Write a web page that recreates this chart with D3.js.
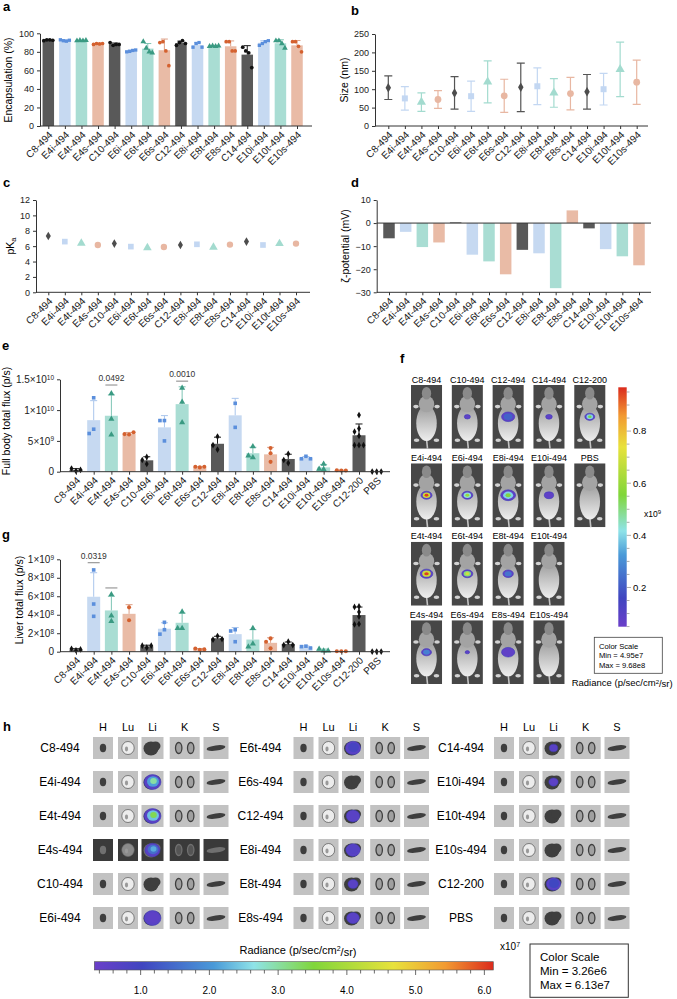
<!DOCTYPE html>
<html>
<head>
<meta charset="utf-8">
<script src="https://cdn.jsdelivr.net/npm/d3@7"></script>
<style>
  body { margin: 0; background: #fff; }
  svg { font-family: Arial, "Liberation Sans", sans-serif; }
  .axis path, .axis line { stroke: #333; stroke-width: 1; }
  .axis text { fill: #222; font-size: 9px; font-family: Arial, "Liberation Sans", sans-serif; }
  .axis.big text { font-size: 10px; }
  .plabel { font-weight: bold; font-size: 13px; }
</style>
</head>
<body>
<svg id="fig" width="677" height="999"></svg>
<script>
// 1. Data --------------------------------------------------------------
var lnps = ["C8-494","E4i-494","E4t-494","E4s-494","C10-494","E6i-494","E6t-494","E6s-494",
            "C12-494","E8i-494","E8t-494","E8s-494","C14-494","E10i-494","E10t-494","E10s-494"];
var ivGroups = lnps.concat(["C12-200","PBS"]);

// a. encapsulation (%), 4 replicates
var encap = [[92,93,93,92.5],[93,92,91.5,92.5],[92,92.5,92,92.5],[88,89,88.5,89],
             [90,87,88,88],[80,80.5,81.5,82],[91,84,80,79],[90,91,81,65],
             [87,90,92,89],[85,89,90,85],[86,86.5,86,86.5],[91,91,81,81],
             [85,81,79,63],[87,89,91,92],[92,92,89,84],[91,91,86,80]];

// b. size (nm)
var sizeMean = [104,75,65,72,90,81,120,82,105,108,90,88,93,100,154,119];
var sizeSD   = [32,32,25,24,44,41,57,45,66,50,39,44,47,43,74,60];

// c. pKa
var pka = [7.32,6.59,6.37,6.15,6.33,5.94,5.8,5.89,6.15,6.24,5.85,6.2,6.59,6.15,6.33,6.33];

// d. zeta potential (mV)
var zeta = [-6.6,-3.8,-10.4,-8.4,0.3,-13.7,-16.6,-22.2,-11.6,-13.1,-28.2,5.5,-2.3,-11.3,-14.4,-18.3];

// e. full body total flux, x10^9 p/s
var fullBody = [[0.1,0.5,0.3],[12.0,6.9,6.2],[12.7,8.55,6.0],[6.05,6.1,6.4],
                [2.4,1.25,1.9],[8.3,8.3,5.0],[13.6,11.3,8.0],[0.7,0.8,0.8],
                [5.7,3.6,4.3],[11.1,7.2],[4.1,2.3,2.6],[3.85,3.0,1.6],
                [2.9,1.4,1.9],[2.5,2.1,2.1],[1.25,0.4,0.45],[0.2,0.25,0.2],
                [9.2,7.0,6.5,5.8,4.3,4.3,4.3],[0.02,0.02,0.02]];
var fullBodyP = [{group:"E4t-494", at:14.07, p:"0.0492"}, {group:"E6t-494", at:14.7, p:"0.0010"}];

// g. liver total flux, x10^8 p/s
var liver = [[0.15,0.32,0.25],[8.85,5.16,3.83],[6.2,3.9,3.3],[4.8,3.4],
             [0.43,0.65,0.65],[3.18,2.38,1.9],[4.33,2.53,2.53],[0.22,0.35,0.25],
             [1.7,1.3,1.37],[2.38,2.24,1.08],[2.53,0.87,0.54],[1.44,1.08,0.36],
             [1.08,0.72,0.72],[0.6,0.55,0.4],[0.1,0.3,0.1],[0.05,0.05,0.05],
             [4.9,4.85,4.3,3.8,3.0,2.95],[0.01,0.01,0.01]];
var liverP = [{group:"E4i-494", at:9.63, p:"0.0319"}, {group:"E4t-494", at:6.9, p:""}];

// f. whole-body images: peak radiance (x10^9) and relative signal area
var mouseRows = [["C8-494","C10-494","C12-494","C14-494","C12-200"],
                 ["E4i-494","E6i-494","E8i-494","E10i-494","PBS"],
                 ["E4t-494","E6t-494","E8t-494","E10t-494"],
                 ["E4s-494","E6s-494","E8s-494","E10s-494"]];
var mousePeak   = [[0,0.1,0.3,0.1,0.55],[0.95,0.6,0.55,0.1,0],[0.95,0.7,0.35,0],[0.38,0.08,0.15,0]];
var mouseSpread = [[0,0.55,1.2,0.6,0.9],[1.0,1.0,1.35,0.85,0],[1.15,1.0,0.95,0],[0.9,0.4,1.2,0]];
var mouseScale = {min:0.0495, max:0.968, ticks:[0.2,0.4,0.6,0.8]};

// h. ex vivo organs: liver peak radiance (x10^7) and relative area
var organs = ["H","Lu","Li","K","S"];
var organSets = [["C8-494","E4i-494","E4t-494","E4s-494","C10-494","E6i-494"],
                 ["E6t-494","E6s-494","C12-494","E8i-494","E8t-494","E8s-494"],
                 ["C14-494","E10i-494","E10t-494","E10s-494","C12-200","PBS"]];
var liverPeak   = [[0,3.0,3.4,2.2,0,0.8],[1.3,0,0.6,1.0,0.5,0.6],[0.5,0.8,0,0,1.5,0]];
var liverSpread = [[0,1,1,0.9,0,1],[0.9,0,0.8,0.85,0.6,0.75],[0.5,0.55,0,0,0.85,0]];
var organScale = {min:0.326, max:6.13, ticks:[1,2,3,4,5,6]};
var darkExposure = ["E4s-494"];

// 2. Styles and helpers -------------------------------------------------
var fig = d3.select("#fig");

function grp(name) {
  if (name[0] === "C" || name === "PBS") return "C";
  return name.match(/^E\d+([its])/)[1];
}
var barFill  = {C:"#595959", i:"#c6d9f1", t:"#a9ddd3", s:"#e9bba6"};
var dotFill  = {C:"#111111", i:"#5b8fdc", t:"#3a9a82", s:"#d4612f"};
var errCol   = {C:"#1a1a1a", i:"#a9c5ec", t:"#7fc5b5", s:"#dea087"};
var markFill = {C:"#4d4d4d", i:"#c3d7f2", t:"#a3dbcf", s:"#e8b7a2"};
var markShape = {C:d3.symbolDiamond, i:d3.symbolSquare, t:d3.symbolTriangle, s:d3.symbolCircle};

var rampStops  = [0, 0.12, 0.3, 0.4, 0.55, 0.75, 0.88, 1];
var rampColors = ["#6b3fc9","#4045c0","#4a9ad8","#8fe3e8","#80d63a","#e8e23c","#f29a32","#db2b1d"];
var ramp = d3.scaleLinear().domain(rampStops).range(rampColors).clamp(true);

var defs = fig.append("defs");
function gradient(id, vertical) {
  var lg = defs.append("linearGradient").attr("id", id)
    .attr("x1", 0).attr("y1", vertical ? 1 : 0).attr("x2", vertical ? 0 : 1).attr("y2", 0);
  rampStops.forEach(function(s, i) {
    lg.append("stop").attr("offset", s).attr("stop-color", rampColors[i]);
  });
}
gradient("rampV", true);
gradient("rampH", false);
var bodyGrad = defs.append("linearGradient").attr("id", "bodyGrad")
  .attr("x1", 0).attr("y1", 0).attr("x2", 0).attr("y2", 1);
bodyGrad.append("stop").attr("offset", 0).attr("stop-color", "#9c9c9c");
bodyGrad.append("stop").attr("offset", 1).attr("stop-color", "#eeeeee");

function panelLetter(t, x, y) {
  fig.append("text").attr("class", "plabel").attr("x", x).attr("y", y).text(t);
}

function yTitle(x, yc, text, size) {
  return fig.append("text")
    .attr("transform", `translate(${x},${yc}) rotate(-90)`)
    .attr("text-anchor", "middle")
    .style("font-size", (size || 10.5) + "px")
    .text(text);
}

function yAxis(x0, scale, ticks, big) {
  return fig.append("g").attr("class", big ? "axis big" : "axis")
    .attr("transform", `translate(${x0},0)`)
    .call(d3.axisLeft(scale).tickValues(ticks).tickSize(3).tickSizeOuter(0));
}

// category axis with rotated labels, domain line drawn across the whole plot
function catAxis(y0, scale, x0, x1, fontSize) {
  var g = fig.append("g").attr("class", "axis")
    .attr("transform", `translate(0,${y0})`)
    .call(d3.axisBottom(scale).tickSize(3).tickSizeOuter(0));
  g.select(".domain").remove();
  g.append("line").attr("x1", x0).attr("x2", x1).attr("stroke", "#333");
  g.selectAll(".tick text")
    .attr("x", 0).attr("y", 0).attr("dy", "0.35em")
    .attr("transform", "translate(2,7) rotate(-45)")
    .style("text-anchor", "end")
    .style("fill", "#222")
    .style("font-size", fontSize + "px");
  return g;
}

// superscript tick labels, e.g. 5x10^9
function sciLabels(g, unit) {
  g.selectAll(".tick text").each(function(v) {
    var t = d3.select(this).text(null);
    if (v === 0) { t.text("0"); return; }
    var real = v * unit;
    var e = Math.floor(Math.log10(real) + 1e-9);
    var m = Math.round(real / Math.pow(10, e) * 100) / 100;
    t.append("tspan").text(m + "×10");
    t.append("tspan").attr("dy", "-0.5em").style("font-size", "6.5px").text(e);
  });
}

// points that would overlap get pushed sideways
function swarm(vals, y, gap) {
  var placed = [];
  return vals.map(function(v) {
    var py = y(v);
    var used = placed.filter(p => Math.abs(p.y - py) < gap).map(p => p.dx);
    var cands = [0, -gap, gap, -2 * gap, 2 * gap];
    var dx = cands.find(c => used.indexOf(c) < 0);
    if (dx === undefined) dx = 0;
    placed.push({y: py, dx: dx});
    return {v: v, dx: dx};
  });
}

function barsWithDots(cfg) {
  var stats = cfg.values.map(function(v, i) {
    var name = cfg.names[i];
    return {name: name, g: grp(name), mean: d3.mean(v), sd: d3.deviation(v) || 0, pts: v};
  });
  var x = cfg.x, y = cfg.y, bw = cfg.bw, y0 = y(0);
  var layer = fig.append("g");
  layer.selectAll("rect").data(stats).join("rect")
    .attr("x", d => x(d.name) - bw / 2)
    .attr("y", d => y(d.mean))
    .attr("width", bw)
    .attr("height", d => y0 - y(d.mean))
    .attr("fill", d => barFill[d.g]);
  layer.selectAll(".err").data(stats.filter(d => d.sd > 0)).join("path")
    .attr("fill", "none")
    .attr("stroke", d => errCol[d.g])
    .attr("stroke-width", 1)
    .attr("d", d => {
      var cx = x(d.name), top = y(d.mean + d.sd);
      return `M${cx},${y(d.mean)}V${top}M${cx - 3.5},${top}H${cx + 3.5}`;
    });
  stats.forEach(function(d) {
    var pts = cfg.even
      ? d.pts.map((v, j) => ({v: v, dx: (j - (d.pts.length - 1) / 2) * cfg.gap}))
      : swarm(d.pts, y, cfg.gap);
    layer.append("g").selectAll("path").data(pts).join("path")
      .attr("transform", p => `translate(${x(d.name) + p.dx},${y(p.v)})`)
      .attr("d", d3.symbol().type(cfg.shape(d.g)).size(cfg.size(d.g)))
      .attr("fill", dotFill[d.g]);
  });
}

function sigBars(list, x, y, bw) {
  list.forEach(function(s) {
    var cx = x(s.group), sy = y(s.at);
    fig.append("line").attr("x1", cx - bw / 2).attr("x2", cx + bw / 2)
      .attr("y1", sy).attr("y2", sy).attr("stroke", "#777").attr("stroke-width", 0.9);
    if (s.p) fig.append("text").attr("x", cx).attr("y", sy - 4)
      .attr("text-anchor", "middle").style("font-size", "8.5px").attr("fill", "#333").text(s.p);
  });
}

// 3. Panel a: encapsulation ---------------------------------------------
panelLetter("a", 3, 11);
var xa = d3.scalePoint().domain(lnps).range([48.3, 297]);
var ya = d3.scaleLinear().domain([0, 100]).range([126, 33.3]);
barsWithDots({names: lnps, values: encap, x: xa, y: ya, bw: 11.5, even: true, gap: 3,
  shape: g => g === "C" ? d3.symbolCircle : markShape[g],
  size: g => g === "t" ? 14 : 11});
yAxis(40, ya, [0, 20, 40, 60, 80, 100]);
catAxis(126, xa, 40, 312, 10);
yTitle(12, 80, "Encapsulation (%)");

// 4. Panel b: size --------------------------------------------------------
panelLetter("b", 351, 15);
var xb = d3.scalePoint().domain(lnps).range([388.3, 636.7]);
var yb = d3.scaleLinear().domain([0, 250]).range([126, 34]);
var sizeData = lnps.map((n, i) => ({name: n, g: grp(n), mean: sizeMean[i], sd: sizeSD[i]}));
fig.append("g").selectAll("path").data(sizeData).join("path")
  .attr("fill", "none")
  .attr("stroke", d => d.g === "C" ? "#555" : markFill[d.g])
  .attr("stroke-width", 1.2)
  .attr("d", d => {
    var cx = xb(d.name), lo = yb(d.mean - d.sd), hi = yb(d.mean + d.sd);
    return `M${cx},${lo}V${hi}M${cx - 4},${hi}H${cx + 4}M${cx - 4},${lo}H${cx + 4}`;
  });
fig.append("g").selectAll("path").data(sizeData).join("path")
  .attr("transform", d => `translate(${xb(d.name)},${yb(d.mean)})`)
  .attr("d", d => d3.symbol().type(markShape[d.g]).size(d.g === "C" ? 26 : 36)())
  .attr("fill", d => markFill[d.g]);
yAxis(375, yb, [0, 50, 100, 150, 200, 250]);
catAxis(126, xb, 375, 648, 10);
yTitle(348, 80, "Size (nm)");

// 5. Panel c: pKa ---------------------------------------------------------
panelLetter("c", 3, 187);
var xc = d3.scalePoint().domain(lnps).range([48.3, 296]);
var yc = d3.scaleLinear().domain([0, 12]).range([292.3, 200]);
fig.append("g").selectAll("path").data(lnps).join("path")
  .attr("transform", (d, i) => `translate(${xc(d)},${yc(pka[i])})`)
  .attr("d", d => d3.symbol().type(markShape[grp(d)]).size(grp(d) === "C" ? 22 : 32)())
  .attr("fill", d => markFill[grp(d)]);
yAxis(36, yc, [0, 2, 4, 6, 8, 10, 12]);
catAxis(292.3, xc, 36, 310, 10);
var pkT = yTitle(14, 246, "pK");
pkT.append("tspan").attr("dy", "0.3em").style("font-size", "7.5px").text("a");

// 6. Panel d: zeta potential ---------------------------------------------
panelLetter("d", 351, 187);
var xd = d3.scalePoint().domain(lnps).range([389, 639]);
var yd = d3.scaleLinear().domain([-30, 10]).range([292.3, 200]);
fig.append("g").selectAll("rect").data(lnps).join("rect")
  .attr("x", d => xd(d) - 5.75)
  .attr("y", (d, i) => yd(Math.max(0, zeta[i])))
  .attr("width", 11.5)
  .attr("height", (d, i) => Math.abs(yd(zeta[i]) - yd(0)))
  .attr("fill", d => barFill[grp(d)]);
fig.append("line").attr("x1", 376.7).attr("x2", 651).attr("y1", yd(0)).attr("y2", yd(0))
  .attr("stroke", "#333");
yAxis(376.7, yd, [-30, -20, -10, 0, 10]);
catAxis(292.3, xd, 376.7, 651, 10);
yTitle(349, 246, "ζ-potential (mV)");

// 7. Panel e: full body flux ----------------------------------------------
panelLetter("e", 2, 350);
var xe = d3.scalePoint().domain(ivGroups).range([76, 376.7]);
var ye = d3.scaleLinear().domain([0, 15]).range([471.7, 379.3]);
barsWithDots({names: ivGroups, values: fullBody, x: xe, y: ye, bw: 13, gap: 4.5,
  shape: g => g === "C" ? d3.symbolDiamond : markShape[g],
  size: g => g === "t" ? 16 : 13});
sciLabels(yAxis(60, ye, [0, 5, 10, 15], true), 1e9);
catAxis(471.7, xe, 60, 390, 10);
sigBars(fullBodyP, xe, ye, 12);
yTitle(10, 421, "Full body total flux (p/s)");

// 8. Panel g: liver flux ----------------------------------------------------
panelLetter("g", 2, 539);
var yg = d3.scaleLinear().domain([0, 10]).range([651.7, 559.3]);
barsWithDots({names: ivGroups, values: liver, x: xe, y: yg, bw: 13, gap: 4.5,
  shape: g => g === "C" ? d3.symbolDiamond : markShape[g],
  size: g => g === "t" ? 16 : 13});
sciLabels(yAxis(60, yg, [0, 2, 4, 6, 8, 10], true), 1e8);
catAxis(651.7, xe, 60, 390, 10);
sigBars(liverP, xe, yg, 12);
yTitle(23, 600, "Liver total flux (p/s)");

// 9. Panel f: IVIS whole body images ---------------------------------------
panelLetter("f", 400, 363);
var fx = d3.scaleBand().domain(d3.range(5)).range([411, 605.3]).paddingInner(0.24);
var fy = d3.scaleBand().domain(d3.range(4)).range([385, 684]).paddingInner(0.19);
var fNorm = d3.scaleLinear().domain([mouseScale.min, mouseScale.max]).clamp(true);

function drawMouse(g, w, h, peak, spr) {
  g.append("rect").attr("width", w).attr("height", h).attr("fill", "#474747");
  g.append("line").attr("x1", w / 2).attr("x2", w / 2 + 1).attr("y1", h * 0.85).attr("y2", h)
    .attr("stroke", "#c4c4c4").attr("stroke-width", 1.6);
  [[0.16, 0.34], [0.84, 0.34], [0.18, 0.87], [0.82, 0.87]].forEach(function(p) {
    g.append("ellipse").attr("cx", w * p[0]).attr("cy", h * p[1]).attr("rx", 2.8).attr("ry", 1.8)
      .attr("fill", "#d2d2d2");
  });
  g.append("ellipse").attr("cx", w / 2).attr("cy", h * 0.6).attr("rx", w * 0.33).attr("ry", h * 0.28)
    .attr("fill", "url(#bodyGrad)");
  g.append("ellipse").attr("cx", w / 2).attr("cy", h * 0.3).attr("rx", w * 0.25).attr("ry", h * 0.13)
    .attr("fill", "#a3a3a3");
  g.append("ellipse").attr("cx", w / 2).attr("cy", h * 0.13).attr("rx", w * 0.15).attr("ry", h * 0.1)
    .attr("fill", "#8a8a8a");
  if (peak > 0) {
    var cx = w / 2, cy = h * 0.5, rx = 5.5 * spr, ry = 4 * spr;
    g.append("ellipse").attr("cx", cx).attr("cy", cy).attr("rx", rx).attr("ry", ry)
      .attr("fill", ramp(0.03)).attr("stroke", "#3a3ab8").attr("stroke-width", 0.6);
    if (peak > 0.2) g.append("ellipse").attr("cx", cx).attr("cy", cy).attr("rx", rx * 0.68).attr("ry", ry * 0.68)
      .attr("fill", ramp(fNorm(peak * 0.72)));
    if (peak > 0.4) g.append("ellipse").attr("cx", cx).attr("cy", cy).attr("rx", rx * 0.35).attr("ry", ry * 0.35)
      .attr("fill", ramp(fNorm(peak)));
  }
}

mouseRows.forEach(function(row, r) {
  row.forEach(function(name, c) {
    var g = fig.append("g").attr("transform", `translate(${fx(c)},${fy(r)})`);
    drawMouse(g, fx.bandwidth(), fy.bandwidth(), mousePeak[r][c], mouseSpread[r][c]);
    fig.append("text").attr("x", fx(c) + fx.bandwidth() / 2).attr("y", fy(r) - 2.5)
      .attr("text-anchor", "middle").style("font-size", "9px").text(name);
  });
});

// vertical colour bar
var fBar = d3.scaleLinear().domain([mouseScale.min, mouseScale.max]).range([626.7, 387.3]);
fig.append("rect").attr("x", 618.3).attr("y", fBar(mouseScale.max)).attr("width", 8.4)
  .attr("height", fBar(mouseScale.min) - fBar(mouseScale.max)).attr("fill", "url(#rampV)");
var fMinor = d3.range(1, 20).map(k => k / 20);
fig.append("g").selectAll("line").data(fMinor).join("line")
  .attr("x1", 626.7).attr("x2", d => mouseScale.ticks.some(t => Math.abs(t - d) < 1e-6) ? 631 : 629.5)
  .attr("y1", d => fBar(d)).attr("y2", d => fBar(d))
  .attr("stroke", "#888").attr("stroke-width", 0.7);
fig.append("g").selectAll("text").data(mouseScale.ticks).join("text")
  .attr("x", 633).attr("y", d => fBar(d)).attr("dy", "0.35em")
  .style("font-size", "9.5px").text(d => d.toFixed(1));
var fx9 = fig.append("text").attr("x", 644).attr("y", 517).style("font-size", "8.5px").text("x10");
fx9.append("tspan").attr("dy", "-0.45em").style("font-size", "6px").text("9");

fig.append("rect").attr("x", 594.3).attr("y", 637.3).attr("width", 68).attr("height", 36)
  .attr("fill", "#fff").attr("stroke", "#444").attr("stroke-width", 0.8);
["Color Scale", "Min = 4.95e7", "Max = 9.68e8"].forEach(function(t, i) {
  fig.append("text").attr("x", 599).attr("y", 648.5 + i * 9.6).style("font-size", "7.6px").text(t);
});
var fRad = fig.append("text").attr("x", 571.7).attr("y", 686).style("font-size", "9.5px").text("Radiance (p/sec/cm");
fRad.append("tspan").attr("dy", "-0.4em").style("font-size", "6px").text("2");
fRad.append("tspan").attr("dy", "0.4em").text("/sr)");

// 10. Panel h: ex vivo organs ----------------------------------------------
panelLetter("h", 3, 731);
var hGroupX = d3.scalePoint().domain(d3.range(3)).range([0, 401]);
var hRowY = d3.scalePoint().domain(d3.range(6)).range([748, 918]);
var organX = d3.scaleOrdinal().domain(organs).range([103, 128, 152.5, 184.7, 216]);
var organW = d3.scaleOrdinal().domain(organs).range([20, 20, 22, 30, 25]);
var hNorm = d3.scaleLinear().domain([organScale.min, organScale.max]).clamp(true);

function drawOrgan(g, type, w, h, dark, peak, spr) {
  var ink = dark ? "#707070" : "#3e3e3e";
  g.append("rect").attr("width", w).attr("height", h).attr("fill", dark ? "#3a3a3a" : "#c2c2c2");
  var cx = w / 2, cy = h / 2;
  if (type === "H") {
    g.append("ellipse").attr("cx", cx).attr("cy", cy).attr("rx", 3.2).attr("ry", 4.2).attr("fill", ink);
  } else if (type === "Lu") {
    g.append("ellipse").attr("cx", cx).attr("cy", cy).attr("rx", 6.2).attr("ry", 6.5)
      .attr("fill", dark ? "#8a8a8a" : "#ececec").attr("stroke", ink).attr("stroke-width", 0.6);
    g.append("ellipse").attr("cx", cx - 1.5).attr("cy", cy + 1).attr("rx", 1.6).attr("ry", 2.4).attr("fill", "#999");
  } else if (type === "Li") {
    g.append("ellipse").attr("cx", cx - 1.5).attr("cy", cy + 0.5).attr("rx", 7.5).attr("ry", 7).attr("fill", ink);
    g.append("ellipse").attr("cx", cx + 3).attr("cy", cy - 2).attr("rx", 5).attr("ry", 4.5).attr("fill", ink);
    if (peak > 0) {
      g.append("ellipse").attr("cx", cx).attr("cy", cy).attr("rx", 8.5 * spr).attr("ry", 7.5 * spr)
        .attr("fill", ramp(0.05)).attr("stroke", "#3a3ab0").attr("stroke-width", 0.5);
      if (peak > 0.7) g.append("ellipse").attr("cx", cx + 0.5).attr("cy", cy - 0.5)
        .attr("rx", 6 * spr).attr("ry", 5.2 * spr).attr("fill", ramp(hNorm(peak * 0.7)));
      if (peak > 1.5) g.append("ellipse").attr("cx", cx + 1).attr("cy", cy - 1)
        .attr("rx", 3.3 * spr).attr("ry", 3 * spr).attr("fill", ramp(hNorm(peak)));
    }
  } else if (type === "K") {
    [-6, 6].forEach(function(dx) {
      g.append("ellipse").attr("cx", cx + dx).attr("cy", cy).attr("rx", 3.2).attr("ry", 5.5)
        .attr("fill", dark ? "#555" : "#a0a0a0").attr("stroke", ink).attr("stroke-width", 1.3);
    });
  } else {
    g.append("ellipse").attr("cx", cx).attr("cy", cy).attr("rx", 9.5).attr("ry", 2.6)
      .attr("transform", `rotate(-8,${cx},${cy})`).attr("fill", ink);
  }
}

organSets.forEach(function(set, gi) {
  var gx = hGroupX(gi);
  organs.forEach(function(o) {
    fig.append("text").attr("x", gx + organX(o)).attr("y", 730.5).attr("text-anchor", "middle")
      .style("font-size", "11px").text(o);
  });
  set.forEach(function(name, r) {
    var ry = hRowY(r);
    fig.append("text").attr("x", gx + 60).attr("y", ry + 4.3).attr("text-anchor", "middle")
      .style("font-size", "12px").text(name);
    var dark = darkExposure.indexOf(name) >= 0;
    organs.forEach(function(o) {
      var w = organW(o), h = 22;
      var g = fig.append("g").attr("transform", `translate(${gx + organX(o) - w / 2},${ry - h / 2})`);
      drawOrgan(g, o, w, h, dark, o === "Li" ? liverPeak[gi][r] : 0, liverSpread[gi][r]);
    });
  });
});

// horizontal colour bar
var hBar = d3.scaleLinear().domain([organScale.min, organScale.max]).range([94.3, 493.3]);
fig.append("rect").attr("x", hBar(organScale.min)).attr("y", 961.7)
  .attr("width", hBar(organScale.max) - hBar(organScale.min)).attr("height", 8.3)
  .attr("fill", "url(#rampH)").attr("stroke", "#555").attr("stroke-width", 0.6);
var hMinor = d3.range(2, 31).map(k => k / 5);
fig.append("g").selectAll("line").data(hMinor).join("line")
  .attr("x1", d => hBar(d)).attr("x2", d => hBar(d))
  .attr("y1", 970).attr("y2", d => Math.abs(d - Math.round(d)) < 1e-6 ? 975 : 973.5)
  .attr("stroke", "#444").attr("stroke-width", 0.8);
fig.append("g").selectAll("text").data(organScale.ticks).join("text")
  .attr("x", d => hBar(d)).attr("y", 994).attr("text-anchor", "middle")
  .style("font-size", "10px").text(d => d.toFixed(1));
var hRad = fig.append("text").attr("x", 298).attr("y", 954).attr("text-anchor", "middle")
  .style("font-size", "11px").text("Radiance (p/sec/cm");
hRad.append("tspan").attr("dy", "-0.4em").style("font-size", "7px").text("2");
hRad.append("tspan").attr("dy", "0.4em").text("/sr)");
var hx7 = fig.append("text").attr("x", 500).attr("y", 950).style("font-size", "10px").text("x10");
hx7.append("tspan").attr("dy", "-0.45em").style("font-size", "7px").text("7");

fig.append("rect").attr("x", 530).attr("y", 944).attr("width", 98.3).attr("height", 53.3)
  .attr("fill", "#fff").attr("stroke", "#333").attr("stroke-width", 1);
["Color Scale", "Min = 3.26e6", "Max = 6.13e7"].forEach(function(t, i) {
  fig.append("text").attr("x", 540).attr("y", 960.5 + i * 14.3).style("font-size", "11.5px").text(t);
});
</script>
</body>
</html>
